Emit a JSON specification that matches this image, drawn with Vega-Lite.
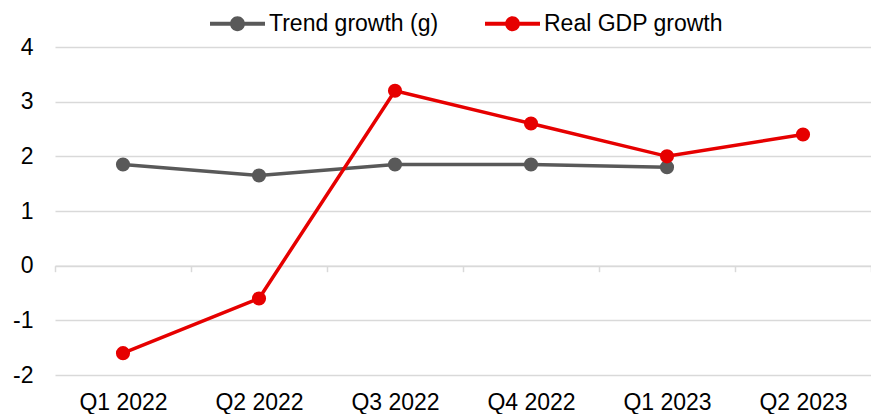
{
  "$schema": "https://vega.github.io/schema/vega-lite/v6.json",
  "width": 816,
  "height": 328,
  "autosize": {"type": "none"},
  "padding": {"left": 55, "top": 47, "right": 0, "bottom": 39},
  "background": "white",
  "config": {"view": {"stroke": null}, "font": "Liberation Sans"},
  "data": {
    "values": [
      {"quarter": "Q1 2022", "series": "Trend growth (g)", "value": 1.85},
      {"quarter": "Q2 2022", "series": "Trend growth (g)", "value": 1.65},
      {"quarter": "Q3 2022", "series": "Trend growth (g)", "value": 1.85},
      {"quarter": "Q4 2022", "series": "Trend growth (g)", "value": 1.85},
      {"quarter": "Q1 2023", "series": "Trend growth (g)", "value": 1.8},
      {"quarter": "Q1 2022", "series": "Real GDP growth", "value": -1.6},
      {"quarter": "Q2 2022", "series": "Real GDP growth", "value": -0.6},
      {"quarter": "Q3 2022", "series": "Real GDP growth", "value": 3.2},
      {"quarter": "Q4 2022", "series": "Real GDP growth", "value": 2.6},
      {"quarter": "Q1 2023", "series": "Real GDP growth", "value": 2.0},
      {"quarter": "Q2 2023", "series": "Real GDP growth", "value": 2.4}
    ]
  },
  "encoding": {
    "x": {
      "field": "quarter",
      "type": "nominal",
      "sort": ["Q1 2022", "Q2 2022", "Q3 2022", "Q4 2022", "Q1 2023", "Q2 2023"],
      "scale": {"paddingInner": 0, "paddingOuter": 0},
      "axis": {
        "title": null,
        "orient": "bottom",
        "offset": -109.3,
        "domainColor": "#d9d9d9",
        "domainWidth": 1.5,
        "tickColor": "#d9d9d9",
        "tickWidth": 1.5,
        "tickSize": 6,
        "tickBand": "extent",
        "labelAngle": 0,
        "labelPadding": 120,
        "labelFontSize": 23,
        "labelColor": "#000000",
        "labelFont": "Liberation Sans",
        "grid": false
      }
    },
    "y": {
      "field": "value",
      "type": "quantitative",
      "scale": {"domain": [-2, 4], "nice": false},
      "axis": {
        "title": null,
        "values": [-2, -1, 0, 1, 2, 3, 4],
        "labelExpr": "replace(datum.label, '\u2212', '-')",
        "grid": true,
        "gridColor": "#d9d9d9",
        "gridWidth": 1.5,
        "domain": false,
        "ticks": false,
        "labelPadding": 22,
        "labelFontSize": 23,
        "labelColor": "#000000",
        "labelFont": "Liberation Sans"
      }
    },
    "color": {
      "field": "series",
      "type": "nominal",
      "sort": ["Trend growth (g)", "Real GDP growth"],
      "scale": {"domain": ["Trend growth (g)", "Real GDP growth"], "range": ["#595959", "#e60000"]},
      "legend": {
        "orient": "none",
        "legendX": 155,
        "legendY": -51,
        "direction": "horizontal",
        "title": null,
        "symbolType": "M -1 -0.07 L 1 -0.07 L 1 0.07 L -1 0.07 Z M 0.27 0 A 0.27 0.27 0 1 1 -0.27 0 A 0.27 0.27 0 1 1 0.27 0 Z",
        "symbolSize": 3025,
        "symbolStrokeWidth": 0,
        "labelFont": "Liberation Sans",
        "labelFontSize": 23,
        "labelColor": "#000000",
        "labelLimit": 400,
        "columnPadding": 46,
        "labelOffset": 4,
        "padding": 0,
        "encode": {
          "symbols": {
            "update": {
              "fill": {"scale": "color", "field": "value"},
              "fillOpacity": {"value": 1}
            }
          }
        }
      }
    }
  },
  "layer": [
    {"mark": {"type": "line", "strokeWidth": 3.5}},
    {"mark": {"type": "point", "filled": true, "size": 200, "opacity": 1}}
  ]
}
